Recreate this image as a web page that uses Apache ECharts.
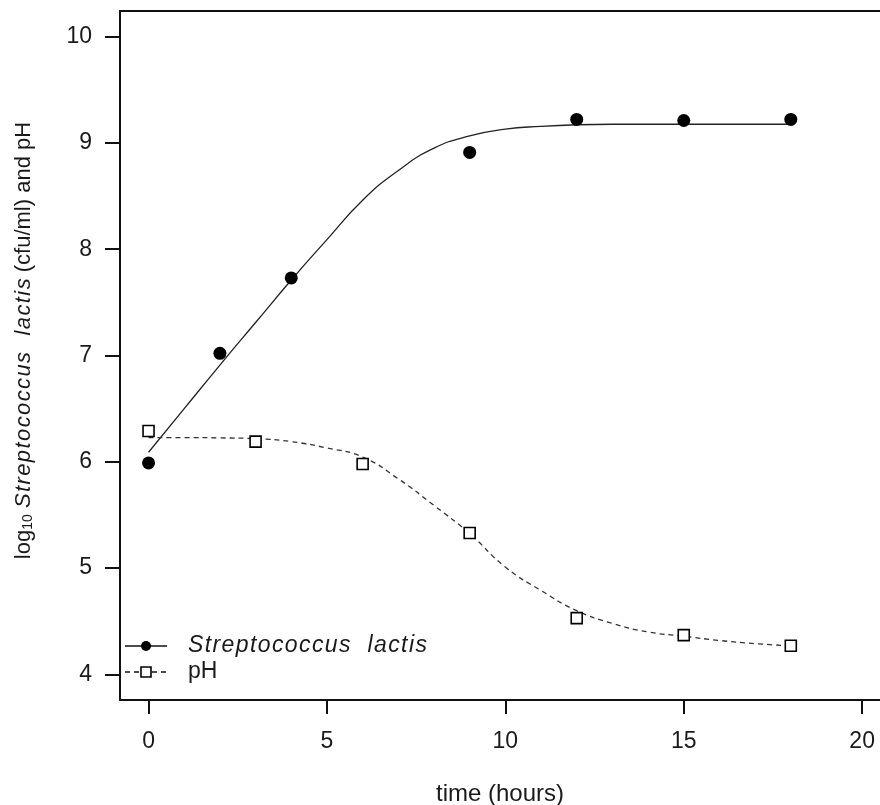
<!DOCTYPE html>
<html>
<head>
<meta charset="utf-8">
<script src="https://cdn.jsdelivr.net/npm/echarts@6/dist/echarts.min.js"></script>
<style>html,body{margin:0;padding:0;background:#fff;}#c{width:880px;height:805px;}</style>
</head>
<body>
<div id="c"></div>
<script>
// observed data
var bactTime = [0, 2, 4, 9, 12, 15, 18];
var bactLog = [5.99, 7.02, 7.73, 8.91, 9.22, 9.21, 9.22];
var phTime = [0, 3, 6, 9, 12, 15, 18];
var phVal = [6.29, 6.19, 5.98, 5.33, 4.53, 4.37, 4.27];
// fitted curves
var fitTime = [0, 1, 2, 3, 4, 5, 6, 7, 8, 9, 10, 11, 12, 13, 14, 15, 16, 17, 18];
var bactFit = [6.09, 6.50, 6.91, 7.31, 7.71, 8.09, 8.46, 8.74, 8.95, 9.065, 9.13, 9.155, 9.17, 9.175, 9.175, 9.175, 9.175, 9.175, 9.175];
var phFit = [6.228, 6.228, 6.225, 6.218, 6.19, 6.13, 6.045, 5.84, 5.59, 5.325, 5.01, 4.79, 4.60, 4.48, 4.40, 4.36, 4.32, 4.29, 4.27];
var xTicks = [0, 5, 10, 15, 20];
var yTicks = [4, 5, 6, 7, 8, 9, 10];
var legendNames = ['Streptococcus  lactis', 'pH'];

// slight letter spacing for italic text only, as in the reference rendering
(function () {
  var proto = window.CanvasRenderingContext2D && CanvasRenderingContext2D.prototype;
  if (!proto || !('letterSpacing' in proto)) return;
  var orig = proto.fillText;
  proto.fillText = function (t, x, y, m) {
    this.letterSpacing = /italic/.test(this.font) ? '1.4px' : '0px';
    if (m === undefined) orig.call(this, t, x, y); else orig.call(this, t, x, y, m);
    this.letterSpacing = '0px';
  };
})();

function pairs(xs, ys) { return xs.map(function (x, i) { return [x, ys[i]]; }); }

var FONT = '"Liberation Sans", Arial, sans-serif';
var INK = '#1a1a1a';
var chart = echarts.init(document.getElementById('c'), null, { renderer: 'canvas' });
chart.setOption({
  animation: false,
  backgroundColor: '#fff',
  grid: { left: 120, right: 0, top: 11, bottom: 105, show: false, outerBoundsMode: 'none', containLabel: false },
  xAxis: [{
    type: 'value', min: -0.8, max: 20.5,
    name: 'time (hours)', nameLocation: 'middle', nameGap: 82,
    nameTextStyle: { fontFamily: FONT, fontSize: 24, color: INK },
    axisLine: { show: true, onZero: false, lineStyle: { color: '#111', width: 2 } },
    splitLine: { show: false },
    axisTick: { show: true, customValues: xTicks, length: 14, inside: false, lineStyle: { color: '#111', width: 2 } },
    axisLabel: { customValues: xTicks, margin: 30, fontFamily: FONT, fontSize: 23, color: INK }
  }, {
    type: 'value', min: -0.8, max: 20.5, position: 'top',
    axisLine: { show: true, onZero: false, lineStyle: { color: '#111', width: 2 } },
    axisTick: { show: false }, axisLabel: { show: false }, splitLine: { show: false }
  }],
  yAxis: {
    type: 'value', min: 3.76, max: 10.24,
    name: '{n|log}{s|10}{i| Streptococcus  lactis}{n| (cfu/ml) and pH}',
    nameLocation: 'middle', nameGap: 85, nameRotate: 90,
    nameTextStyle: {
      fontFamily: FONT, fontSize: 22, color: INK, padding: [0, 0, 0, 30],
      rich: {
        n: { fontFamily: FONT, fontSize: 22, color: INK, lineHeight: 28, verticalAlign: 'bottom' },
        s: { fontFamily: FONT, fontSize: 14, color: INK, lineHeight: 28, verticalAlign: 'bottom' },
        i: { fontFamily: FONT, fontSize: 22, fontStyle: 'italic', color: INK, lineHeight: 28, verticalAlign: 'bottom', padding: [0, 14, 0, 14] }
      }
    },
    axisLine: { show: true, onZero: false, lineStyle: { color: '#111', width: 2 } },
    splitLine: { show: false },
    axisTick: { show: true, customValues: yTicks, length: 15, lineStyle: { color: '#111', width: 2 } },
    axisLabel: { customValues: yTicks, margin: 28, fontFamily: FONT, fontSize: 23, color: INK }
  },
  series: [
    { name: 'bactFit', type: 'line', data: pairs(fitTime, bactFit), smooth: 0.5, showSymbol: false, symbol: 'none',
      lineStyle: { color: '#222', width: 1.3 }, z: 2 },
    { name: 'phFit', type: 'line', data: pairs(fitTime, phFit), smooth: 0.5, showSymbol: false, symbol: 'none',
      lineStyle: { color: '#333', width: 1.3, type: [5, 4] }, z: 2 },
    { name: legendNames[0], type: 'scatter', data: pairs(bactTime, bactLog), symbol: 'circle', symbolSize: 13,
      itemStyle: { color: '#000', opacity: 1 }, z: 3 },
    { name: legendNames[1], type: 'scatter', data: pairs(phTime, phVal), symbol: 'rect', symbolSize: 11,
      itemStyle: { color: '#fff', borderColor: '#000', borderWidth: 1.6, opacity: 1 }, z: 3 }
  ],
  graphic: [
    { type: 'line', shape: { x1: 125, y1: 646, x2: 167, y2: 646 }, style: { stroke: '#111', lineWidth: 1.5 } },
    { type: 'circle', shape: { cx: 146, cy: 646, r: 5 }, style: { fill: '#000' } },
    { type: 'line', shape: { x1: 125, y1: 672, x2: 167, y2: 672 }, style: { stroke: '#111', lineWidth: 1.5, lineDash: [5, 4] } },
    { type: 'rect', shape: { x: 141, y: 667, width: 10, height: 10 }, style: { fill: '#fff', stroke: '#000', lineWidth: 1.6 } },
    { type: 'text', x: 188, y: 646, style: { text: legendNames[0], fontFamily: FONT, fontSize: 23, fontStyle: 'italic', fill: INK, verticalAlign: 'middle' } },
    { type: 'text', x: 188, y: 672, style: { text: legendNames[1], fontFamily: FONT, fontSize: 23, fill: INK, verticalAlign: 'middle' } }
  ]
});
</script>
</body>
</html>
